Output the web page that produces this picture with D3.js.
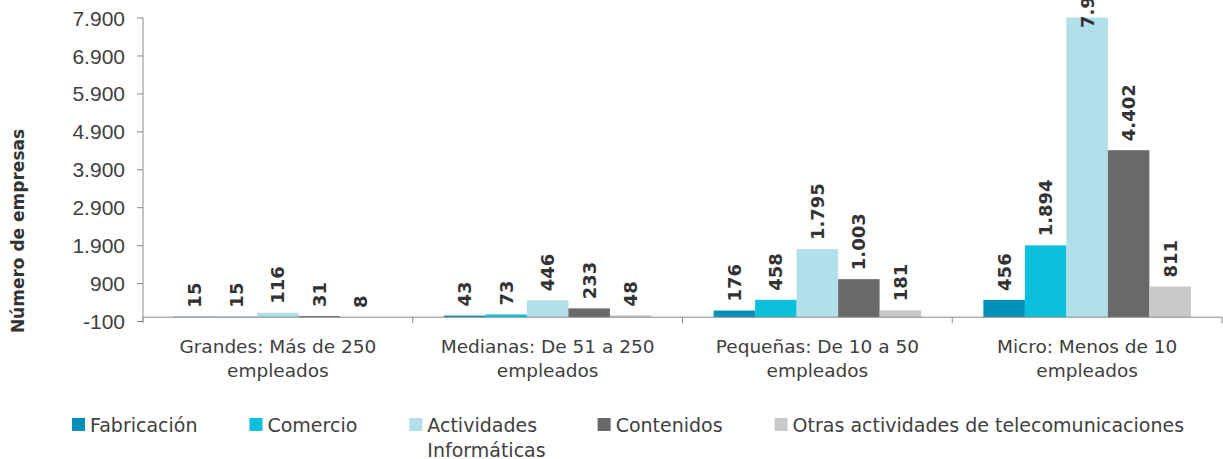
<!DOCTYPE html>
<html>
<head>
<meta charset="utf-8">
<script src="https://cdn.jsdelivr.net/npm/d3@7"></script>
<style>
  body { margin: 0; background: #fff; }
  svg { display: block; font-family: "DejaVu Sans", Verdana, sans-serif; }
</style>
</head>
<body>
<div id="chart"></div>
<script>
// datos
const categories = [
    "Grandes: Más de 250 empleados",
    "Medianas: De 51 a 250 empleados",
    "Pequeñas: De 10 a 50 empleados",
    "Micro: Menos de 10 empleados"
];
const seriesNames = ["Fabricación", "Comercio", "Actividades Informáticas", "Contenidos", "Otras actividades de telecomunicaciones"];
const legendLines = [["Fabricación"], ["Comercio"], ["Actividades", "Informáticas"], ["Contenidos"], ["Otras actividades de telecomunicaciones"]];
const colors = ["#0090b8", "#0bc0da", "#b1dfea", "#696969", "#c9c9c9"];

const fabricacion = [15, 43, 176, 456];
const comercio = [15, 73, 458, 1894];
const actividades = [116, 446, 1795, 7926];
const contenidos = [31, 233, 1003, 4402];
const otras = [8, 48, 181, 811];

const yTicks = [-100, 900, 1900, 2900, 3900, 4900, 5900, 6900, 7900];

const seriesValues = [fabricacion, comercio, actividades, contenidos, otras];

const width = 1223, height = 459;
const plotLeft = 143, plotRight = 1222, plotTop = 17.5, plotBottom = 321;

const es = d3.formatLocale({ decimal: ",", thousands: ".", grouping: [3], currency: ["", " €"], minus: "-" });
const fmt = es.format(",d");

const svg = d3.select("#chart").append("svg")
    .attr("width", width)
    .attr("height", height);

const y = d3.scaleLinear().domain([-100, 7900]).range([plotBottom, plotTop]);
const x0 = d3.scaleBand().domain(categories).range([plotLeft, plotRight]).padding(0);
const x1 = d3.scaleBand().domain(seriesNames).range([0, x0.bandwidth()])
    .paddingInner(0).paddingOuter(0.75);

svg.append("defs").append("clipPath").attr("id", "plot")
    .append("rect")
    .attr("x", 0).attr("y", plotTop)
    .attr("width", width).attr("height", plotBottom - plotTop);

// eje Y
const yAxis = svg.append("g")
    .attr("transform", `translate(${plotLeft},0)`)
    .call(d3.axisLeft(y).tickValues(yTicks).tickFormat(fmt).tickSize(6).tickPadding(12));
yAxis.select(".domain").attr("stroke", "#8a8a8a").attr("d", `M0,${plotTop}V${plotBottom}`);
yAxis.selectAll(".tick line").attr("stroke", "#8a8a8a");
yAxis.selectAll(".tick text")
    .attr("fill", "#404040")
    .style("font-size", "21px")
    .attr("dy", "0.36em");

// barras
const groups = svg.append("g").selectAll("g")
    .data(categories)
    .join("g")
    .attr("transform", d => `translate(${x0(d)},0)`);

const barData = (c, i) => seriesNames.map((s, j) => ({ s, j, v: seriesValues[j][i] }));

groups.selectAll("rect")
    .data(barData)
    .join("rect")
    .attr("clip-path", "url(#plot)")
    .attr("x", d => x1(d.s))
    .attr("width", x1.bandwidth())
    .attr("y", d => y(Math.max(d.v, 0)))
    .attr("height", d => Math.abs(y(d.v) - y(0)))
    .attr("fill", d => colors[d.j]);

// eje X (cruza en 0)
svg.append("line")
    .attr("x1", plotLeft).attr("x2", plotRight)
    .attr("y1", y(0)).attr("y2", y(0))
    .attr("stroke", "#8a8a8a");
svg.append("g").selectAll("line")
    .data(categories.concat(["end"]))
    .join("line")
    .attr("x1", (d, i) => plotLeft + i * x0.bandwidth())
    .attr("x2", (d, i) => plotLeft + i * x0.bandwidth())
    .attr("y1", y(0)).attr("y2", y(0) + 6)
    .attr("stroke", "#8a8a8a");

// etiquetas de datos
groups.selectAll("text")
    .data(barData)
    .join("text")
    .attr("transform", d => {
        const cx = x1(d.s) + x1.bandwidth() / 2;
        const ty = d.v > y.domain()[1] ? y(y.domain()[1]) + 10.5 : y(d.v) - 9;
        return `translate(${cx},${ty}) rotate(-90)`;
    })
    .attr("dy", "0.36em")
    .attr("fill", "#333")
    .style("font-size", "18px")
    .style("font-weight", "bold")
    .text(d => fmt(d.v));

// etiquetas de categoría
function wrap(text, maxW) {
    text.each(function (d) {
        const t = d3.select(this);
        const words = d.split(" ");
        let line = [];
        let tspan = t.append("tspan").attr("x", 0).attr("dy", 0);
        words.forEach(w => {
            line.push(w);
            tspan.text(line.join(" "));
            if (tspan.node().getComputedTextLength() > maxW && line.length > 1) {
                line.pop();
                tspan.text(line.join(" "));
                line = [w];
                tspan = t.append("tspan").attr("x", 0).attr("dy", "24px").text(w);
            }
        });
    });
}

svg.append("g").selectAll("text")
    .data(categories)
    .join("text")
    .attr("transform", d => `translate(${x0(d) + x0.bandwidth() / 2},352.5)`)
    .attr("text-anchor", "middle")
    .attr("fill", "#404040")
    .style("font-size", "18.5px")
    .call(wrap, 230);

// título eje Y
svg.append("text")
    .attr("transform", "translate(18,231) rotate(-90)")
    .attr("text-anchor", "middle")
    .attr("dy", "0.36em")
    .attr("fill", "#333")
    .style("font-size", "17px")
    .style("font-weight", "bold")
    .text("Número de empresas");

// leyenda
const legend = svg.append("g");
let lx = 72;
legendLines.forEach((lines, i) => {
    const item = legend.append("g").attr("transform", `translate(${lx},0)`);
    item.append("rect")
        .attr("x", 0).attr("y", 418)
        .attr("width", 13).attr("height", 13)
        .attr("fill", colors[i]);
    const txt = item.append("text")
        .attr("fill", "#404040")
        .style("font-size", "19px");
    lines.forEach((l, k) => {
        txt.append("tspan").attr("x", 18).attr("y", 431.5 + k * 25).text(l);
    });
    let w = 0;
    txt.selectAll("tspan").each(function () { w = Math.max(w, this.getComputedTextLength()); });
    lx += 18 + w + 52;
});
</script>
</body>
</html>
